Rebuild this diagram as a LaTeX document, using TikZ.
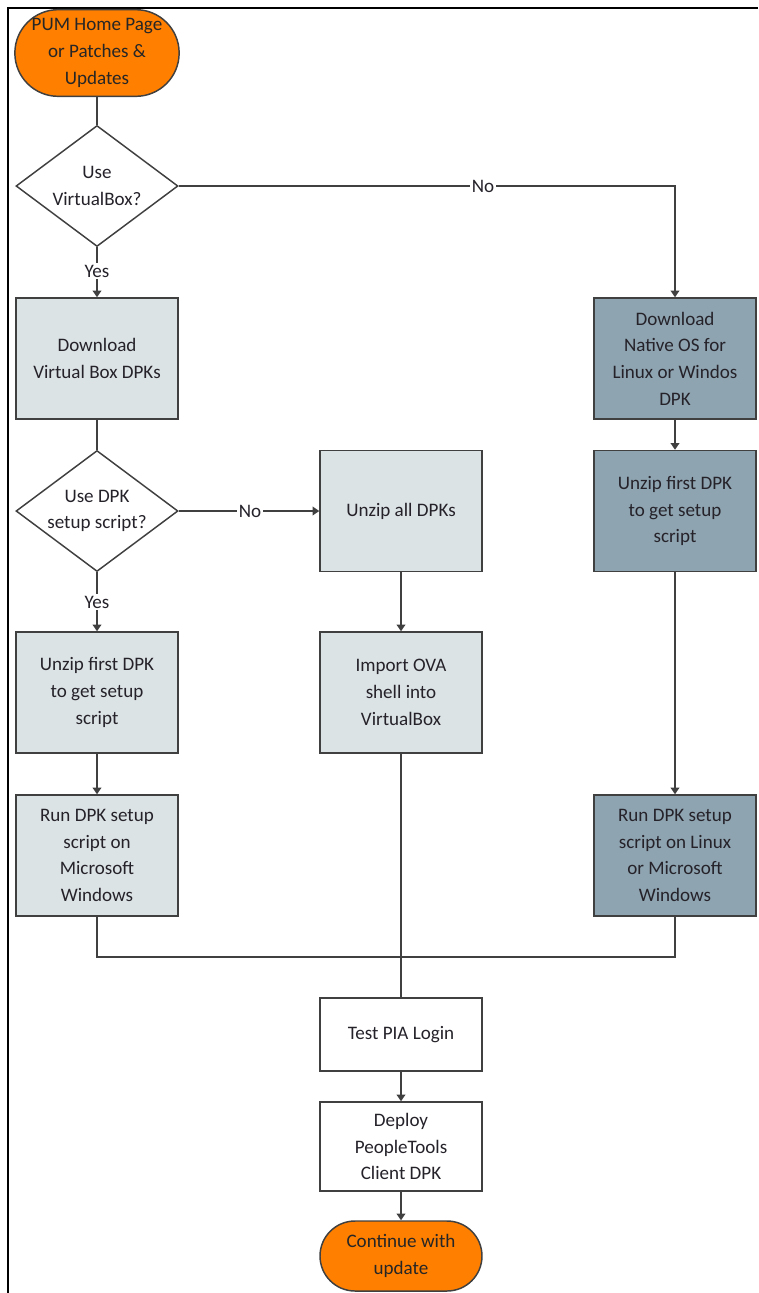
\documentclass[tikz,border=0pt]{standalone}
\usepackage{fontspec}
\setmainfont{Carlito}
\usetikzlibrary{shapes.geometric,shapes.misc,arrows.meta}
\definecolor{orangeT}{HTML}{FF7F00}
\definecolor{lightbox}{HTML}{DCE3E5}
\definecolor{darkbox}{HTML}{8EA4B0}
\definecolor{edgecol}{HTML}{404040}
\definecolor{txtcol}{HTML}{25222A}
\tikzset{
  base/.style={draw=edgecol, line width=1.1pt, align=center, text=txtcol,
    font=\fontsize{14.3}{20}\selectfont, inner sep=0pt},
  procbox/.style={base, rectangle, fill=lightbox, minimum width=121.5pt, minimum height=90.75pt},
  darkproc/.style={base, rectangle, fill=darkbox, minimum width=121.5pt, minimum height=90.75pt},
  whitebox/.style={base, rectangle, fill=white, minimum width=121.5pt},
  term/.style={base, rounded rectangle, fill=orangeT, text=black!85, minimum width=121.5pt},
  decision/.style={base, diamond, fill=white, minimum width=121.5pt, minimum height=90.75pt},
  dtext/.style={align=center, text=txtcol, font=\fontsize{14.3}{20}\selectfont, inner sep=0pt},
  lbl/.style={fill=white, text=txtcol, font=\fontsize{14.3}{20}\selectfont, inner sep=1pt},
  conn/.style={draw=edgecol, line width=1.1pt},
  arr/.style={conn, -{Triangle[length=5pt,width=6.5pt]}},
}
\begin{document}
\begin{tikzpicture}[x=0.75pt,y=-0.75pt]
\useasboundingbox (0,0) rectangle (758,1293);
% frame
\draw[black, line width=1.2pt] (8,1293) -- (8,8) -- (758,8);

% nodes
\node[term, minimum height=65pt] (start) at (97,53) {PUM Home Page\\or Patches \&\\Updates};
\node[decision] (d1) at (97,186) {};
\node[dtext] (d1t) at (97,186) {Use\\VirtualBox?};
\node[procbox] (L1) at (97,358.5) {Download\\Virtual Box DPKs};
\node[decision] (d2) at (97,511) {};
\node[dtext] (d2t) at (97,511) {Use DPK\\setup script?};
\node[procbox] (L2) at (97,692.5) {Unzip first DPK\\to get setup\\script};
\node[procbox] (L3) at (97,855.5) {Run DPK setup\\script on\\Microsoft\\Windows};

\node[procbox] (M1) at (401,511) {Unzip all DPKs};
\node[procbox] (M2) at (401,692.5) {Import OVA\\shell into\\VirtualBox};

\node[darkproc] (R1) at (675,358.5) {Download\\Native OS for\\Linux or Windos\\DPK};
\node[darkproc] (R2) at (675,511) {Unzip first DPK\\to get setup\\script};
\node[darkproc] (R3) at (675,855.5) {Run DPK setup\\script on Linux\\or Microsoft\\Windows};

\node[whitebox, minimum height=54.75pt] (test) at (401,1034.5) {Test PIA Login};
\node[whitebox, minimum height=66.75pt] (deploy) at (401,1146.5) {Deploy\\PeopleTools\\Client DPK};
\node[term, minimum height=52.5pt] (end) at (401,1256) {Continue with\\update};

\coordinate (m) at (401,957);

% connectors
\draw[conn] (start.south) -- (d1.north);
\draw[arr] (d1.south) -- (L1.north);
\draw[arr] (d1.east) -| (R1.north);
\draw[conn] (L1.south) -- (d2.north);
\draw[arr] (d2.east) -- (M1.west);
\draw[arr] (d2.south) -- (L2.north);
\draw[arr] (L2.south) -- (L3.north);
\draw[arr] (M1.south) -- (M2.north);
\draw[arr] (R1.south) -- (R2.north);
\draw[arr] (R2.south) -- (R3.north);
\draw[conn] (L3.south) |- (m) -| (R3.south);
\draw[conn] (M2.south) -- (test.north);
\draw[arr] (test.south) -- (deploy.north);
\draw[arr] (deploy.south) -- (end.north);

% labels
\node[lbl] (no1) at (483,186) {No};
\node[lbl] (yes1) at (97,271) {Yes};
\node[lbl] (no2) at (250,511) {No};
\node[lbl] (yes2) at (97,602) {Yes};
\end{tikzpicture}
\end{document}
